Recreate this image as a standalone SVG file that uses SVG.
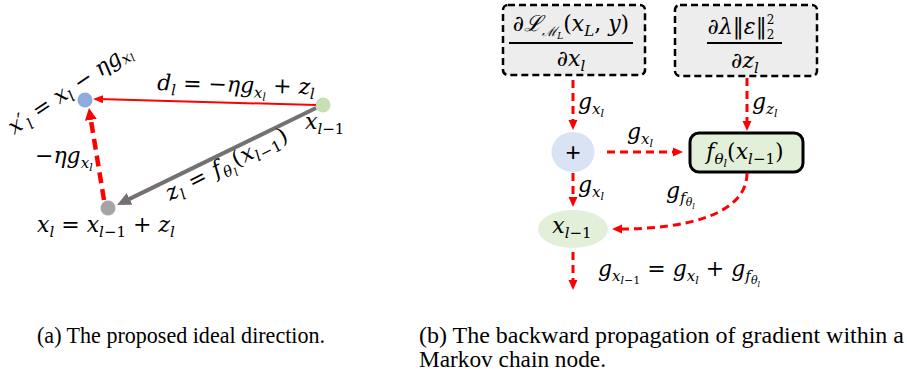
<svg xmlns="http://www.w3.org/2000/svg" width="907" height="375" viewBox="0 0 907 375">
<style>
.m{font-family:"DejaVu Serif","Liberation Serif",serif;font-style:italic;font-size:22px;fill:#000}
.u{font-style:normal}
.cap{font-family:"Liberation Serif","Times New Roman","DejaVu Serif",serif;font-size:23px;fill:#000}
.rd{fill:none;stroke:#ff0000;stroke-width:3;stroke-dasharray:8 5}
.box{fill:#ededed;stroke:#000;stroke-width:2.5;stroke-dasharray:7 4}
.frac{stroke:#000;stroke-width:2}
</style>
<defs>
<marker id="rh" viewBox="0 0 10 10" refX="3" refY="5" markerWidth="10" markerHeight="10" markerUnits="userSpaceOnUse" orient="auto"><path d="M0,0.5 L10,5 L0,9.5 z" fill="#ff0000"/></marker>
<marker id="rhb" viewBox="0 0 12 12" refX="3" refY="6" markerWidth="12" markerHeight="12" markerUnits="userSpaceOnUse" orient="auto"><path d="M0,0 L12,6 L0,12 z" fill="#ff0000"/></marker>
<marker id="rs" viewBox="0 0 10 8" refX="5" refY="4" markerWidth="10" markerHeight="8" markerUnits="userSpaceOnUse" orient="auto"><path d="M0,0 L10,4 L0,8 z" fill="#ff0000"/></marker>
<marker id="gh" viewBox="0 0 14 13" refX="4" refY="6.5" markerWidth="14" markerHeight="13" markerUnits="userSpaceOnUse" orient="auto"><path d="M0,0 L14,6.5 L0,13 z" fill="#767171"/></marker>
</defs>

<!-- Left panel nodes -->
<g id="node-xprime"><circle cx="85" cy="100" r="7.5" fill="#8faadc"/></g>
<g id="node-xl1"><circle cx="323" cy="105" r="7.5" fill="#c5e0b4"/></g>
<g id="node-xl"><circle cx="108" cy="208" r="7.5" fill="#a5a5a5"/></g>

<g id="connectors-left">
<path d="M316,105 L98,99.1" fill="none" stroke="#ff0000" stroke-width="2" marker-end="url(#rs)"/>
<path d="M316,108 L126,200.6" fill="none" stroke="#767171" stroke-width="4" marker-end="url(#gh)"/>
<path d="M104,200 L90.4,116.9" fill="none" stroke="#ff0000" stroke-width="4.5" stroke-dasharray="11 6" marker-end="url(#rhb)"/>
</g>

<g id="labels-left">
<text class="m" transform="translate(14,135) rotate(-34)">x′<tspan dy="5" font-size="15">l</tspan><tspan dy="-5" class="u"> = </tspan>x<tspan dy="5" font-size="15">l</tspan><tspan dy="-5" class="u"> − </tspan>ηg<tspan dy="4" font-size="15">x</tspan><tspan dy="2" font-size="11">l</tspan></text>
<text class="m" transform="translate(157,90) rotate(1.5)">d<tspan dy="5" font-size="15">l</tspan><tspan dy="-5" class="u"> = −</tspan>ηg<tspan dy="5" font-size="15">x</tspan><tspan dy="3" font-size="11">l</tspan><tspan dy="-8" class="u"> + </tspan>z<tspan dy="5" font-size="15">l</tspan></text>
<text class="m" x="305" y="129">x<tspan dy="5" font-size="15">l</tspan><tspan font-size="15" class="u">−1</tspan></text>
<text class="m" x="35" y="163"><tspan class="u">−</tspan>ηg<tspan dy="5" font-size="15">x</tspan><tspan dy="3" font-size="11">l</tspan></text>
<text class="m" transform="translate(170,201) rotate(-27)" letter-spacing="0.6">z<tspan dy="5" font-size="15">l</tspan><tspan dy="-5" class="u"> = </tspan>f<tspan dy="5" font-size="15">θ</tspan><tspan dy="3" font-size="11">l</tspan><tspan dy="-8" class="u">(</tspan>x<tspan dy="5" font-size="15">l</tspan><tspan font-size="15" class="u">−1</tspan><tspan dy="-5" class="u">)</tspan></text>
<text class="m" x="37" y="232">x<tspan dy="5" font-size="15">l</tspan><tspan dy="-5" class="u"> = </tspan>x<tspan dy="5" font-size="15">l</tspan><tspan font-size="15" class="u">−1</tspan><tspan dy="-5" class="u"> + </tspan>z<tspan dy="5" font-size="15">l</tspan></text>
</g>

<!-- Right panel nodes -->
<g id="node-loss">
<rect class="box" x="503" y="5" width="142" height="70" rx="5"/>
<text class="m" x="571" y="31" text-anchor="middle">∂ℒ<tspan dy="5" font-size="13">ℳ</tspan><tspan dy="3" font-size="9">L</tspan><tspan dy="-8" class="u">(</tspan>x<tspan dy="5" font-size="15">L</tspan><tspan dy="-5" class="u">, </tspan>y<tspan class="u">)</tspan></text>
<line class="frac" x1="509" y1="43" x2="633" y2="43"/>
<text class="m" x="571" y="66" text-anchor="middle">∂x<tspan dy="5" font-size="15">l</tspan></text>
</g>
<g id="node-reg">
<rect class="box" x="675" y="5" width="142" height="71" rx="5"/>
<text class="m" x="741" y="34" text-anchor="middle">∂λ<tspan class="u">‖</tspan>ε<tspan class="u">‖</tspan><tspan dy="-10" font-size="12" class="u">2</tspan><tspan dx="-7.5" dy="15" font-size="12" class="u">2</tspan></text>
<line class="frac" x1="707" y1="43" x2="782" y2="43"/>
<text class="m" x="745" y="68" text-anchor="middle">∂z<tspan dy="5" font-size="15">l</tspan></text>
</g>
<g id="node-plus">
<ellipse cx="573" cy="152" rx="21.5" ry="20" fill="#dae3f3"/>
<text x="573" y="161" text-anchor="middle" font-family="Liberation Sans, sans-serif" font-size="26">+</text>
</g>
<g id="node-f">
<rect x="690" y="133" width="113" height="39" rx="9" fill="#e2f0d9" stroke="#000" stroke-width="3"/>
<text class="m" x="745" y="159" text-anchor="middle">f<tspan dy="5" font-size="15">θ</tspan><tspan dy="3" font-size="11">l</tspan><tspan dy="-8" class="u">(</tspan>x<tspan dy="5" font-size="15">l</tspan><tspan font-size="15" class="u">−1</tspan><tspan dy="-5" class="u">)</tspan></text>
</g>
<g id="node-xprev">
<ellipse cx="573" cy="229" rx="35" ry="19" fill="#e2f0d9"/>
<text class="m" x="572" y="233" text-anchor="middle">x<tspan dy="5" font-size="15">l</tspan><tspan font-size="15" class="u">−1</tspan></text>
</g>

<g id="connectors-right">
<path class="rd" d="M573,80 V123" marker-end="url(#rh)"/>
<path class="rd" d="M747,78 V124" marker-end="url(#rh)"/>
<path class="rd" d="M607,152 H676" marker-end="url(#rh)"/>
<path class="rd" d="M573,173 V200" marker-end="url(#rh)"/>
<path class="rd" d="M573,252 V283" marker-end="url(#rh)"/>
<path class="rd" d="M747,173 C747,215 685,229 619,229" marker-end="url(#rh)"/>
<text class="m" x="578" y="109">g<tspan dy="5" font-size="15">x</tspan><tspan dy="3" font-size="11">l</tspan></text>
<text class="m" x="752" y="109">g<tspan dy="5" font-size="15">z</tspan><tspan dy="3" font-size="11">l</tspan></text>
<text class="m" x="627" y="139">g<tspan dy="5" font-size="15">x</tspan><tspan dy="3" font-size="11">l</tspan></text>
<text class="m" x="578" y="192">g<tspan dy="5" font-size="15">x</tspan><tspan dy="3" font-size="11">l</tspan></text>
<text class="m" x="666" y="198">g<tspan dy="5" font-size="15">f</tspan><tspan dy="3" font-size="11">θ</tspan><tspan dy="3" font-size="8">l</tspan></text>
<text class="m" x="598" y="276">g<tspan dy="5" font-size="15">x</tspan><tspan dy="3" font-size="11">l</tspan><tspan font-size="11" class="u">−1</tspan><tspan dy="-8" class="u"> = </tspan>g<tspan dy="5" font-size="15">x</tspan><tspan dy="3" font-size="11">l</tspan><tspan dy="-8" class="u"> + </tspan>g<tspan dy="5" font-size="15">f</tspan><tspan dy="3" font-size="11">θ</tspan><tspan dy="3" font-size="8">l</tspan></text>
</g>

<g id="captions">
<text class="cap" x="37" y="343" textLength="288" lengthAdjust="spacingAndGlyphs">(a)  The proposed ideal direction.</text>
<text class="cap" x="419" y="343" textLength="485" lengthAdjust="spacingAndGlyphs">(b)  The backward propagation of gradient within a</text>
<text class="cap" x="419" y="367" textLength="187" lengthAdjust="spacingAndGlyphs">Markov chain node.</text>
</g>
</svg>
